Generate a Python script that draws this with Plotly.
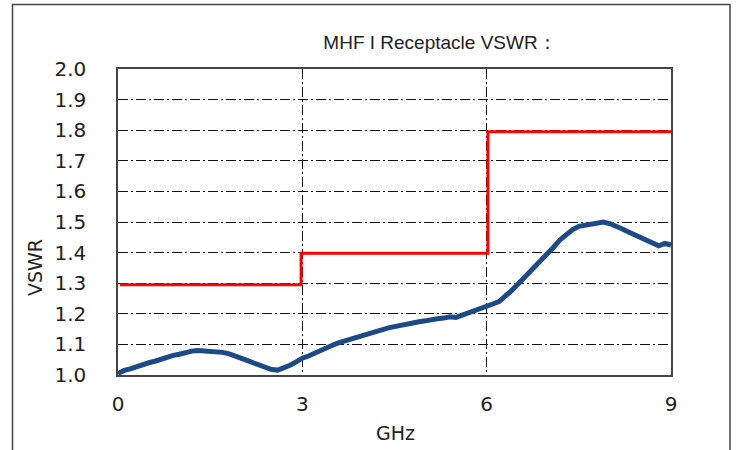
import plotly.graph_objects as go

# Measured VSWR (blue)
freq_ghz = [0.0, 0.1, 0.2, 0.3, 0.4, 0.5, 0.6, 0.7, 0.8, 0.9,
            1.0, 1.1, 1.2, 1.3, 1.4, 1.5, 1.6, 1.7, 1.8, 1.9,
            2.0, 2.1, 2.2, 2.3, 2.4, 2.5, 2.6, 2.7, 2.8, 2.9,
            3.0, 3.1, 3.2, 3.3, 3.4, 3.5, 3.6, 3.7, 3.8, 3.9,
            4.0, 4.1, 4.2, 4.3, 4.4, 4.5, 4.6, 4.7, 4.8, 4.9,
            5.0, 5.1, 5.2, 5.3, 5.4, 5.5, 5.6, 5.7, 5.8, 5.9,
            6.0, 6.1, 6.2, 6.3, 6.4, 6.5, 6.6, 6.7, 6.8, 6.9,
            7.0, 7.1, 7.2, 7.3, 7.4, 7.5, 7.6, 7.7, 7.8, 7.9,
            8.0, 8.1, 8.2, 8.3, 8.4, 8.5, 8.6, 8.7, 8.8, 8.9, 9.0]
vswr = [1.005, 1.015, 1.020, 1.028, 1.032, 1.040, 1.045, 1.052, 1.058, 1.064,
        1.068, 1.074, 1.078, 1.080, 1.079, 1.078, 1.077, 1.074, 1.070, 1.064,
        1.057, 1.048, 1.040, 1.032, 1.024, 1.018, 1.016, 1.022, 1.032, 1.043,
        1.055, 1.062, 1.072, 1.080, 1.090, 1.098, 1.106, 1.112, 1.120, 1.126,
        1.133, 1.138, 1.145, 1.148, 1.154, 1.158, 1.163, 1.167, 1.171, 1.174,
        1.177, 1.182, 1.184, 1.186, 1.190, 1.188, 1.195, 1.200, 1.210, 1.215,
        1.222, 1.232, 1.240, 1.255, 1.275, 1.295, 1.315, 1.335, 1.355, 1.380,
        1.400, 1.420, 1.443, 1.460, 1.475, 1.486, 1.490, 1.494, 1.498, 1.500,
        1.495, 1.488, 1.478, 1.468, 1.458, 1.448, 1.440, 1.428, 1.422, 1.430, 1.425]

# Specification limit (red step)
limit_freq = [0.03, 2.98, 6.02, 9.0]
limit_vswr = [1.295, 1.398, 1.795, 1.795]

title_text = "MHF I Receptacle VSWR："
x_ticks = [0, 3, 6, 9]
y_ticks = [1.0, 1.1, 1.2, 1.3, 1.4, 1.5, 1.6, 1.7, 1.8, 1.9, 2.0]

fig = go.Figure()
fig.add_trace(go.Scatter(x=limit_freq, y=limit_vswr, mode="lines",
                         line=dict(color="#ff0000", width=3, shape="hv"),
                         showlegend=False, cliponaxis=False))
fig.add_trace(go.Scatter(x=freq_ghz, y=vswr, mode="lines",
                         line=dict(color="#1d4a86", width=5),
                         showlegend=False, cliponaxis=False))

W, H = 738, 450
L, R, T, B = 118, 67, 69, 75
pw, ph = W - L - R, H - T - B

def px(xp):
    return (xp - L) / pw

def py(yp):
    return (H - B - yp) / ph

grid_dash = "10px,3px,2px,3px"
tick_font = dict(family="DejaVu Sans, Verdana", size=20, color="#222")

fig.update_layout(
    width=W, height=H,
    margin=dict(l=L, r=R, t=T, b=B),
    paper_bgcolor="white", plot_bgcolor="white",
    title=dict(text=title_text, x=px(440), xref="paper", xanchor="center",
               y=1 - 42 / H, yanchor="middle",
               font=dict(family="Liberation Sans, Arial", size=19, color="#222")),
    xaxis=dict(range=[0, 9], tickvals=x_ticks, ticktext=[str(v) for v in x_ticks],
               showgrid=True, gridcolor="#111", gridwidth=1, griddash=grid_dash,
               zeroline=False, showline=True, linecolor="#444", linewidth=1.5, mirror=True,
               ticks="", ticklabelstandoff=10, tickfont=tick_font),
    yaxis=dict(range=[1.0, 2.0], tickvals=y_ticks, ticktext=[f"{v:.1f}" for v in y_ticks],
               showgrid=True, gridcolor="#111", gridwidth=1, griddash=grid_dash,
               zeroline=False, showline=True, linecolor="#444", linewidth=1.5, mirror=True,
               ticks="", ticklabelstandoff=26, tickfont=tick_font),
    annotations=[
        dict(text="VSWR", x=px(35), y=py(268), xref="paper", yref="paper",
             showarrow=False, textangle=-90, xanchor="center", yanchor="middle",
             font=dict(family="DejaVu Sans, Verdana", size=19, color="#222")),
        dict(text="GHz", x=px(395), y=py(433), xref="paper", yref="paper",
             showarrow=False, xanchor="center", yanchor="middle",
             font=dict(family="DejaVu Sans, Verdana", size=19, color="#222")),
    ],
    shapes=[
        dict(type="path", xref="paper", yref="paper",
             path=f"M {px(12.5)},{py(460)} L {px(12.5)},{py(4.5)} L {px(730)},{py(4.5)} L {px(730)},{py(460)}",
             line=dict(color="#444", width=1.5)),
    ],
)

fig.write_html("out.html", config={"displayModeBar": False},
               post_script="document.body.style.margin='0';document.body.style.padding='0';")
